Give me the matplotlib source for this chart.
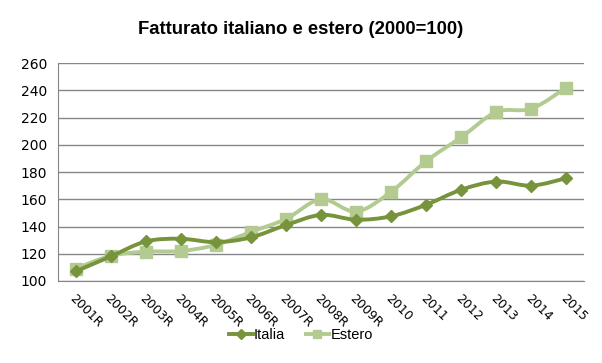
import matplotlib
matplotlib.use("Agg")
import matplotlib.pyplot as plt
import matplotlib.transforms as mtransforms
import numpy as np
from matplotlib.path import Path
from matplotlib.patches import PathPatch
from matplotlib.lines import Line2D

categories = ["2001R", "2002R", "2003R", "2004R", "2005R", "2006R", "2007R",
              "2008R", "2009R", "2010", "2011", "2012", "2013", "2014", "2015"]
italia = [107, 118, 129, 131, 128.5, 132, 141, 148.5, 145, 147.5, 156, 167, 173, 170, 175.5]
estero = [109, 118.5, 121.5, 122, 126.5, 136, 145.5, 160, 151, 165.5, 188, 205.5, 224, 226.5, 242]
series_names = ["Italia", "Estero"]
yticks = [100, 120, 140, 160, 180, 200, 220, 240, 260]

c_it = "#77933C"
c_es = "#B3CB90"

fig = plt.figure(figsize=(6.02, 3.63), dpi=100)
ax = fig.add_axes([58/602, 1-281/363, (584-58)/602, (281-63)/363])

x = np.arange(len(categories))


def smooth_path(xs, ys, t=1/6):
    xs = np.asarray(xs, float); ys = np.asarray(ys, float)
    n = len(xs)
    verts = [(xs[0], ys[0])]
    codes = [Path.MOVETO]
    for i in range(n - 1):
        p0 = (xs[max(i-1, 0)], ys[max(i-1, 0)])
        p1 = (xs[i], ys[i])
        p2 = (xs[i+1], ys[i+1])
        p3 = (xs[min(i+2, n-1)], ys[min(i+2, n-1)])
        c1 = (p1[0] + (p2[0]-p0[0])*t, p1[1] + (p2[1]-p0[1])*t)
        c2 = (p2[0] - (p3[0]-p1[0])*t, p2[1] - (p3[1]-p1[1])*t)
        verts += [c1, c2, p2]
        codes += [Path.CURVE4]*3
    return Path(verts, codes)

ax.add_patch(PathPatch(smooth_path(x, estero), fill=False, edgecolor=c_es, lw=2.8, zorder=3, capstyle='round', joinstyle='round'))
ax.plot(x, estero, ls='none', marker='s', ms=8.5, color=c_es, zorder=4)
ax.add_patch(PathPatch(smooth_path(x, italia), fill=False, edgecolor=c_it, lw=2.8, zorder=5, capstyle='round', joinstyle='round'))
ax.plot(x, italia, ls='none', marker='D', ms=6, color=c_it, zorder=6)

ax.set_xlim(-0.5, len(categories) - 0.5)
ax.set_ylim(100, 260)
ax.set_yticks(yticks)
ax.yaxis.grid(True, color="#868686", lw=1)
ax.set_axisbelow(True)
for s in ["top", "right"]:
    ax.spines[s].set_visible(False)
ax.spines["left"].set_color("#868686")
ax.spines["bottom"].set_color("#868686")
ax.tick_params(axis='y', length=0, labelsize=10, pad=8)
ax.tick_params(axis='x', length=0, labelsize=9, pad=11)
ax.set_xticks(x)
ax.set_xticklabels(categories, rotation=-45, ha='left', va='center', rotation_mode='anchor')
offset = mtransforms.ScaledTranslation(-4/100, 0, fig.dpi_scale_trans)
for lab in ax.get_xticklabels():
    lab.set_transform(lab.get_transform() + offset)

fig.suptitle("Fatturato italiano e estero (2000=100)", x=0.5, y=1-30/363, va='center',
             fontsize=13.3, fontweight='bold', fontfamily="Liberation Sans")

handles = [Line2D([], [], color=c_it, lw=2.8, marker='D', ms=5),
           Line2D([], [], color=c_es, lw=2.8, marker='s', ms=6)]
fig.legend(handles, series_names, loc='center', bbox_to_anchor=(0.5, 1-335/363), ncol=2,
           frameon=False, handlelength=1.6, handletextpad=0.1, columnspacing=1.4,
           prop={'family': 'Liberation Sans', 'size': 10.5})

fig.savefig("out.png", dpi=100)
